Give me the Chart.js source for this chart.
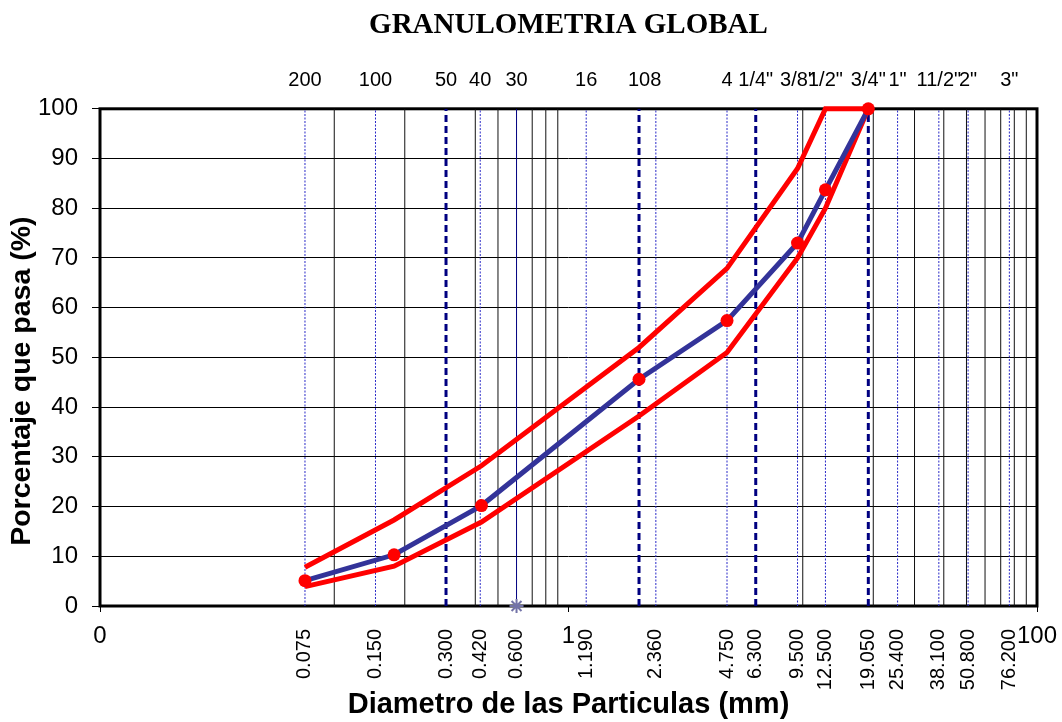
<!DOCTYPE html>
<html>
<head>
<meta charset="utf-8">
<title>Granulometria global</title>
<script src="https://cdn.jsdelivr.net/npm/chart.js@4.4.1/dist/chart.umd.min.js"></script>
<style>
  body { margin: 0; background: #fff; }
  #wrap { width: 1062px; height: 722px; }
</style>
</head>
<body>
<div id="wrap"><canvas id="chart" width="1062" height="722"></canvas></div>
<script>
// Curva granulometrica (abertura en mm, % que pasa)
const tamices = [0.075, 0.18, 0.425, 2.0, 4.75, 9.5, 12.5, 19.05];
const pasa = [5.1, 10.3, 20.2, 45.6, 57.4, 73.0, 83.7, 100];
const limiteSuperior = [7.8, 17.3, 28.2, 52.0, 67.9, 88.0, 100, 100];
const limiteInferior = [3.9, 8.0, 16.9, 38.2, 51.0, 70.0, 80.0, 100];
const asterisco = [{ x: 0.6, y: 0 }];

// Etiquetas de los ejes
const mallaAbertura = [0.075, 0.15, 0.3, 0.42, 0.6, 1.19, 2.0, 2.36, 4.75, 6.3, 9.5, 12.5, 19.05, 25.4, 38.1, 50.8, 76.2];
const mallaNombre = ["200", "100", "50", "40", "30", "16", "10", "8", "4", "1/4\"", "3/8\"", "1/2\"", "3/4\"", "1\"", "11/2\"", "2\"", "3\""];
const diametrosMm = [0.075, 0.15, 0.3, 0.42, 0.6, 1.19, 2.36, 4.75, 6.3, 9.5, 12.5, 19.05, 25.4, 38.1, 50.8, 76.2];
const decadas = [0.01, 1, 100];
const decadasTexto = ["0", "1", "100"];
const pctTicks = [0, 10, 20, 30, 40, 50, 60, 70, 80, 90, 100];

// Lineas verticales de referencia
const lineasPunteadas = [0.075, 0.15, 0.42, 1.19, 2.36, 4.75, 9.5, 12.5, 25.4, 38.1, 50.8, 76.2];
const lineasDiscontinuas = [0.3, 2.0, 6.3, 19.05];
const lineasAzules = [0.6];
const lineasLog = [0.1, 0.2, 0.4, 0.5, 0.7, 0.8, 0.9, 10, 20, 30, 40, 50, 60, 70, 80, 90];

const SANS = "Arial, 'Liberation Sans', sans-serif";
const SERIF = "'Times New Roman', 'Liberation Serif', serif";

const verticales = xs => xs.flatMap(v => [{ x: v, y: 0 }, { x: v, y: 100 }, { x: v, y: null }]);
const serie = ys => tamices.map((x, i) => ({ x, y: ys[i] }));

const marco = {
  id: "marco",
  beforeDatasetsDraw(chart) {
    const { ctx, chartArea: a } = chart;
    ctx.save();
    ctx.strokeStyle = "#000";
    ctx.lineWidth = 3;
    ctx.strokeRect(a.left, a.top, a.right - a.left, a.bottom - a.top);
    ctx.restore();
  }
};

// el eje xd mide 0 px de alto y Chart.js recorta sus etiquetas, asi que se escriben aqui
const etiquetasDecadas = {
  id: "etiquetasDecadas",
  afterDraw(chart) {
    const { ctx, chartArea } = chart;
    const escala = chart.scales.xd;
    ctx.save();
    ctx.fillStyle = "#000";
    ctx.font = "24px " + SANS;
    ctx.textAlign = "center";
    ctx.textBaseline = "middle";
    decadas.forEach((v, i) => {
      ctx.fillText(decadasTexto[i], escala.getPixelForValue(v), chartArea.bottom + 30);
    });
    ctx.restore();
  }
};

// ejes x logaritmicos de 0.01 a 100 mm; sin relleno lateral para que el area no se encoja
const logAxis = (extra, alto) => Object.assign({
  type: "logarithmic",
  min: 0.01,
  max: 100,
  border: { display: false },
  afterFit: s => { s.height = alto; s.paddingLeft = 0; s.paddingRight = 0; }
}, extra);

document.addEventListener("DOMContentLoaded", () => {
  const ctx = document.getElementById("chart").getContext("2d");
  Chart.defaults.font.family = SANS;
  Chart.defaults.color = "#000";

  new Chart(ctx, {
    type: "line",
    data: {
      datasets: [
        {
          data: serie(pasa),
          borderColor: "#333399",
          borderWidth: 5,
          pointRadius: 6.5,
          pointBackgroundColor: "#ff0000",
          pointBorderColor: "#ff0000",
          pointBorderWidth: 0,
          tension: 0,
          clip: false
        },
        { data: serie(limiteSuperior), borderColor: "#ff0000", borderWidth: 5, pointRadius: 0, tension: 0, clip: false },
        { data: serie(limiteInferior), borderColor: "#ff0000", borderWidth: 5, pointRadius: 0, tension: 0, clip: false },
        {
          data: asterisco,
          showLine: false,
          pointStyle: "star",
          pointRadius: 7,
          pointBorderColor: "#7373a8",
          pointBorderWidth: 2,
          clip: false
        },
        { data: verticales(lineasDiscontinuas), borderColor: "#000080", borderWidth: 3, borderDash: [7, 4], pointRadius: 0 },
        { data: verticales(lineasAzules), borderColor: "#000080", borderWidth: 1, pointRadius: 0 },
        { data: verticales(lineasPunteadas), borderColor: "#2a2ac8", borderWidth: 1, borderDash: [2, 1.5], pointRadius: 0 },
        { data: verticales(lineasLog), borderColor: "#111", borderWidth: 1, pointRadius: 0 }
      ]
    },
    options: {
      responsive: false,
      animation: false,
      events: [],
      layout: { padding: { left: 0, right: 25, top: 0, bottom: 0 } },
      plugins: {
        legend: { display: false },
        tooltip: { enabled: false },
        title: {
          display: true,
          fullSize: false,
          text: "GRANULOMETRIA GLOBAL",
          color: "#000",
          font: { family: SERIF, size: 29, weight: "bold" },
          padding: { top: 8, bottom: 0 }
        }
      },
      scales: {
        x: logAxis({
          position: "bottom",
          weight: 1,
          afterBuildTicks: s => { s.ticks = diametrosMm.map(v => ({ value: v })); },
          grid: { display: false, drawTicks: false },
          ticks: {
            autoSkip: false,
            minRotation: 90,
            maxRotation: 90,
            padding: 23,
            font: { size: 20 },
            callback: (v, i) => diametrosMm[i].toFixed(3)
          },
          title: {
            display: true,
            text: "Diametro de las Particulas (mm)",
            font: { size: 29, weight: "bold" },
            padding: 0
          }
        }, 116),
        xd: logAxis({
          position: "bottom",
          weight: 0,
          afterBuildTicks: s => { s.ticks = decadas.map(v => ({ value: v })); },
          grid: { drawOnChartArea: false, drawTicks: true, tickLength: 6, color: "#000" },
          ticks: { display: false }
        }, 0),
        xt: logAxis({
          position: "top",
          afterBuildTicks: s => { s.ticks = mallaAbertura.map(v => ({ value: v })); },
          grid: { display: false, drawTicks: false },
          ticks: {
            autoSkip: false,
            minRotation: 0,
            maxRotation: 0,
            padding: 16,
            font: { size: 20 },
            callback: (v, i) => mallaNombre[i]
          }
        }, 66),
        y: {
          type: "linear",
          min: 0,
          max: 100,
          afterBuildTicks: s => { s.ticks = pctTicks.map(v => ({ value: v })); },
          afterFit: s => { s.width = 100; },
          border: { display: false },
          grid: { color: "#000", lineWidth: 1, tickLength: 8 },
          ticks: { padding: 14, font: { size: 24 } },
          title: {
            display: true,
            // espacios finales: bajan el texto hacia el origen como en la hoja original
            text: "Porcentaje que pasa (%)      ",
            font: { size: 28.5, weight: "bold" },
            padding: { top: 5, bottom: 0 }
          }
        }
      }
    },
    plugins: [marco, etiquetasDecadas]
  });
});
</script>
</body>
</html>
